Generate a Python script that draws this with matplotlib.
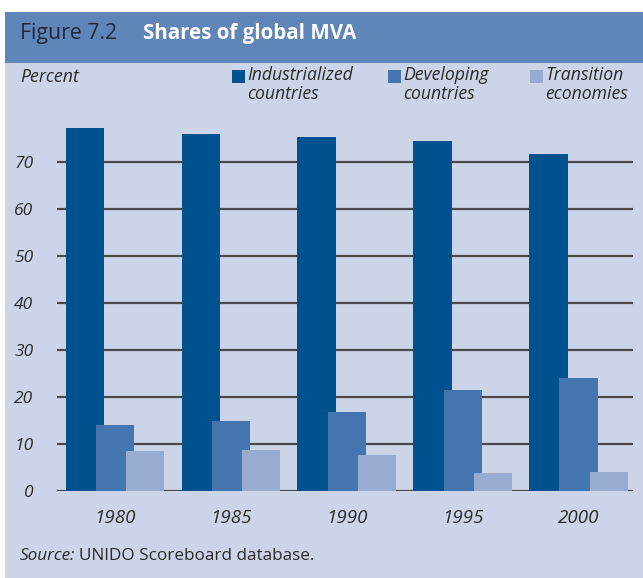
import numpy as np
import matplotlib.pyplot as plt
from matplotlib.patches import Rectangle

plt.rcParams['font.family'] = ['Open Sans', 'DejaVu Sans']

years = ['1980', '1985', '1990', '1995', '2000']
series = ['Industrialized\ncountries', 'Developing\ncountries', 'Transition\neconomies']
industrialized = [77.2, 76.0, 75.3, 74.5, 71.7]
developing = [14.0, 14.9, 16.8, 21.5, 24.0]
transition = [8.5, 8.7, 7.7, 3.8, 4.0]
yticks = [0, 10, 20, 30, 40, 50, 60, 70]
colors = ['#00528F', '#4575AE', '#98ACD2']
bg = '#CCD5E8'
txt = '#2A2A2A'

fig = plt.figure(figsize=(6.43, 5.78), dpi=100)
fig.patch.set_facecolor('white')
W, H = 643, 578

# background panel and header band
fig.add_artist(Rectangle((5 / W, 0), 1, (578 - 63) / H, transform=fig.transFigure,
                         facecolor=bg, edgecolor='none', zorder=0))
fig.add_artist(Rectangle((5 / W, (578 - 63) / H), 1, 51 / H, transform=fig.transFigure,
                         facecolor='#5F85B9', edgecolor='none', zorder=0))
fig.text(20 / W, 1 - 33 / H, 'Figure 7.2', fontsize=15.3, color='#1E2A3A', va='center')
fig.text(143 / W, 1 - 33 / H, 'Shares of global MVA', fontsize=14.8, color='white',
         fontweight='bold', va='center')

ax = fig.add_axes([57 / W, 87 / H, 576 / W, 376 / H])
ax.patch.set_alpha(0)

x = np.arange(len(years))
width = 0.33
offset = 0.26
for i, (vals, col) in enumerate(zip([industrialized, developing, transition], colors)):
    ax.bar(x + (i - 1) * offset, vals, width, color=col, zorder=3 + i)

ax.set_xlim(-0.5, 4.47)
ax.set_ylim(0, 80)
ax.yaxis.grid(True, color='#4A4A4E', linewidth=1.6, zorder=1)
ax.set_axisbelow(True)
for s in ax.spines.values():
    s.set_visible(False)
ax.tick_params(axis='both', length=0)
ax.set_yticks(yticks)
ax.set_yticklabels([str(v) for v in yticks], fontsize=12.5, style='italic', color=txt)
ax.tick_params(axis='y', pad=17)
ax.set_xticks(x)
ax.set_xticklabels(years, fontsize=13.5, style='italic', color=txt)
ax.tick_params(axis='x', pad=13)

fig.text(20 / W, 1 - 77 / H, 'Percent', fontsize=12.8, style='italic', color=txt, va='center')

leg_x = [232, 388, 530]
for lx, name, col in zip(leg_x, series, colors):
    fig.add_artist(Rectangle((lx / W, 1 - 83 / H), 13 / W, 13 / H, transform=fig.transFigure,
                             facecolor=col, edgecolor='none'))
    fig.text((lx + 15) / W, 1 - 66 / H, name, fontsize=12.7, style='italic', color=txt,
             va='top', linespacing=1.05)

fig.text(20 / W, 1 - 556 / H, 'Source:', fontsize=12.3, style='italic', color=txt, va='center')
fig.text(79 / W, 1 - 556 / H, 'UNIDO Scoreboard database.', fontsize=12.3, color=txt, va='center')

fig.savefig('out.png', dpi=100)
